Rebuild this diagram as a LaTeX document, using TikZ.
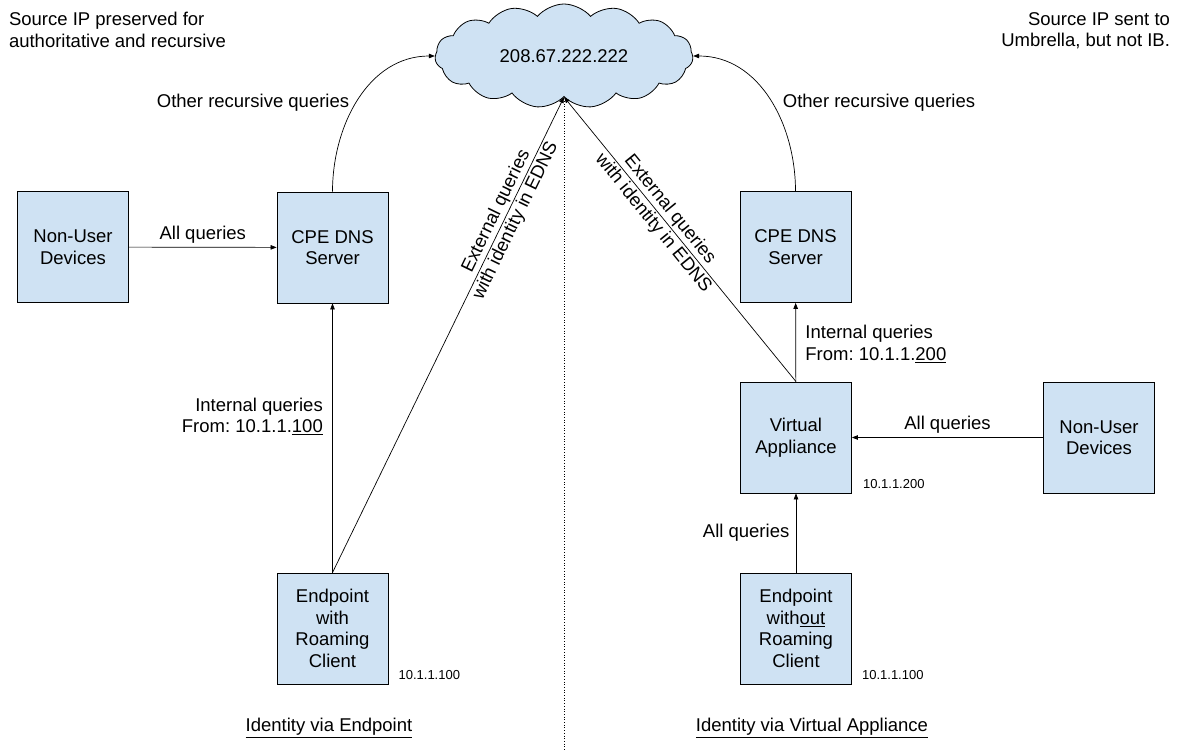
\documentclass[tikz,border=0pt]{standalone}
\usepackage{fontspec}
\setmainfont{Liberation Sans}
\usetikzlibrary{arrows.meta,shapes.symbols}
\definecolor{boxblue}{HTML}{CFE2F3}
\frenchspacing

\begin{document}
\begin{tikzpicture}[x=1pt, y=-1pt, >={Triangle[length=6pt,width=4.5pt]},
  devbox/.style={draw, fill=boxblue, line width=0.8pt, minimum width=111pt,
    minimum height=111pt, align=center, inner sep=2pt,
    font=\fontsize{18.5}{21.5}\selectfont},
  flow/.style={->, line width=0.7pt},
  lbl/.style={font=\fontsize{18.5}{21.5}\selectfont},
  iplbl/.style={font=\fontsize{13}{15}\selectfont, inner sep=0pt, anchor=base west}]

% --- Рамка рисунка ---
\useasboundingbox (0,0) rectangle (1179,751);

% --- Облако ---
\node[cloud, draw, fill=boxblue, line width=0.8pt, cloud puffs=15,
  cloud puff arc=100, aspect=2.6, minimum width=258pt, minimum height=104pt,
  inner sep=0pt, lbl] (cloud) at (564,56) {208.67.222.222};

% --- Блоки ---
\foreach \name/\x/\y/\txt in {
    nudL/73/247/{Non-User\\Devices},
    cpeL/332.5/247.5/{CPE DNS\\Server},
    epL/332.5/628.5/{Endpoint\\with\\Roaming\\Client},
    cpeR/795.5/247/{CPE DNS\\Server},
    va/796/437.5/{Virtual\\Appliance},
    nudR/1099/437.5/{Non-User\\Devices},
    epR/796/628.5/{Endpoint\\with\underline{out}\\Roaming\\Client}} {
  \node[devbox] (\name) at (\x,\y) {\txt};
}

% --- Адреса ---
\node[iplbl] (ipEpL) at ([xshift=10pt, yshift=4.5pt]epL.south east) {10.1.1.100};
\node[iplbl] (ipVa) at ([xshift=11pt, yshift=4.5pt]va.south east) {10.1.1.200};
\node[iplbl] (ipEpR) at ([xshift=10pt, yshift=4.5pt]epR.south east) {10.1.1.100};

% --- Левая часть: через Endpoint ---
\draw[flow] (nudL) -- node[lbl, above] (lblAllL) {All queries} (cpeL);
\draw[flow] (epL) -- node[lbl, left, pos=0.58, align=right, xshift=-6pt] (lblIntL)
  {Internal queries\\From: 10.1.1.\underline{100}} (cpeL);
\draw[flow] (epL.north) -- node[lbl, sloped, pos=0.75, align=center] (lblExtL)
  {External queries\\with identity in EDNS} (cloud.south);
\draw[flow] (cpeL.north) to[out=90, in=180]
  node[lbl, pos=0.5, anchor=east, xshift=-6pt, yshift=-4pt] (lblRecL)
  {Other recursive queries} (cloud.west);

% --- Правая часть: через Virtual Appliance ---
\draw[flow] (nudR) -- node[lbl, above] (lblAllR) {All queries} (va);
\draw[flow] (epR) -- node[lbl, left, xshift=-3pt] (lblAllVa) {All queries} (va);
\draw[flow] (va) -- node[lbl, right, pos=0.48, align=left, xshift=6pt] (lblIntR)
  {Internal queries\\From: 10.1.1.\underline{200}} (cpeR);
\draw[flow] (va.north) -- node[lbl, sloped, pos=0.58, align=center] (lblExtR)
  {External queries\\with identity in EDNS} (cloud.south);
\draw[flow] (cpeR.north) to[out=90, in=0]
  node[lbl, pos=0.5, anchor=west, xshift=10pt, yshift=-4pt] (lblRecR)
  {Other recursive queries} (cloud.east);

% --- Разделитель ---
\draw[dotted, line width=0.7pt] ([yshift=-4pt]cloud.south) -- (cloud.south |- 0,751);

% --- Подписи ---
\node[lbl, anchor=north west, align=left] (noteL) at (5.5,9)
  {Source IP preserved for\\authoritative and recursive};
\node[lbl, anchor=north east, align=right] (noteR) at (1173.5,9)
  {Source IP sent to\\Umbrella, but not IB.};
\node[lbl] (titleL) at (329,728) {\underline{Identity via Endpoint}};
\node[lbl] (titleR) at (812,728) {\underline{Identity via Virtual Appliance}};

\end{tikzpicture}
\end{document}
